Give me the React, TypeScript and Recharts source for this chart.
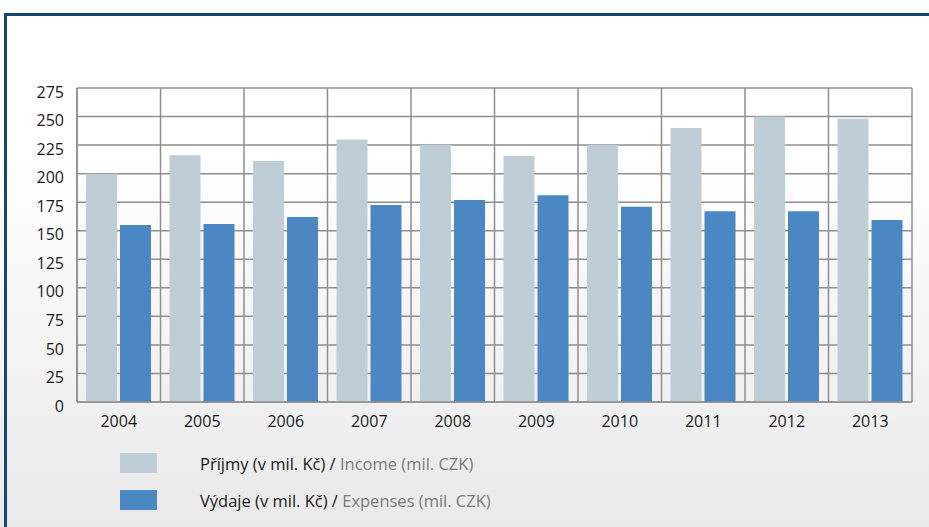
import { BarChart, Bar, XAxis, YAxis, CartesianGrid } from 'recharts'

const years = ['2004', '2005', '2006', '2007', '2008', '2009', '2010', '2011', '2012', '2013']
const income = [200, 216, 211, 230, 225, 215.5, 225, 240, 250, 248]
const expenses = [155, 156, 162, 172.5, 177, 181, 171, 167, 167, 159.5]
const yTicks = [0, 25, 50, 75, 100, 125, 150, 175, 200, 225, 250, 275]

const series = [
  { key: 'income', czech: 'Příjmy (v mil. Kč) /', english: 'Income (mil. CZK)', color: '#bfced6' },
  { key: 'expenses', czech: 'Výdaje (v mil. Kč) /', english: 'Expenses (mil. CZK)', color: '#4b88c3' },
]

const data = years.map((year, i) => ({ year, income: income[i], expenses: expenses[i] }))

const FONT = '"Open Sans", "DejaVu Sans", sans-serif'
const GRID = '#8f8f8f'

export default function App() {
  return (
    <div
      style={{
        position: 'absolute',
        top: 0,
        left: 0,
        width: 929,
        height: 527,
        overflow: 'hidden',
        fontFamily: FONT,
        background: 'linear-gradient(to bottom, #ffffff 0%, #ffffff 28%, #e9e9e9 100%)',
      }}
    >
      <div
        style={{
          position: 'absolute',
          left: 4,
          top: 13,
          right: 0,
          bottom: 0,
          borderTop: '3px solid #174673',
          borderLeft: '3px solid #174673',
        }}
      />
      <div style={{ position: 'absolute', top: 0, left: 0 }}>
        <BarChart
          width={929}
          height={527}
          data={data}
          margin={{ top: 88, right: 17, bottom: 95, left: 0 }}
          barCategoryGap={9}
          barGap={3}
        >
          <CartesianGrid
            stroke={GRID}
            strokeWidth={1.5}
            verticalCoordinatesGenerator={({ offset }: any) =>
              years.map((_, i) => offset.left + (i * offset.width) / years.length).concat(offset.left + offset.width)
            }
          />
          <XAxis
            dataKey="year"
            height={30}
            tickLine={false}
            tickSize={0}
            tickMargin={14}
            axisLine={{ stroke: GRID, strokeWidth: 1.5 }}
            tick={{ fill: '#1a1a1a', fontSize: 16, fontFamily: FONT }}
          />
          <YAxis
            width={77}
            domain={[0, 275]}
            ticks={yTicks}
            interval={0}
            tickLine={false}
            tickSize={0}
            tickMargin={13}
            axisLine={{ stroke: GRID, strokeWidth: 1.5 }}
            tick={{ fill: '#1a1a1a', fontSize: 16, fontFamily: FONT, dy: 4 }}
          />
          {series.map((s) => (
            <Bar key={s.key} dataKey={s.key} fill={s.color} isAnimationActive={false} />
          ))}
        </BarChart>
      </div>
      {series.map((s, i) => (
        <div
          key={s.key}
          style={{
            position: 'absolute',
            left: 120,
            top: 453 + i * 37,
            height: 20,
            display: 'flex',
            alignItems: 'center',
            whiteSpace: 'nowrap',
          }}
        >
          <div style={{ width: 37, height: 20, background: s.color }} />
          <span style={{ marginLeft: 43, fontSize: 16.5, color: '#1a1a1a' }}>
            {s.czech} <span style={{ color: '#7a7a7a' }}>{s.english}</span>
          </span>
        </div>
      ))}
    </div>
  )
}
